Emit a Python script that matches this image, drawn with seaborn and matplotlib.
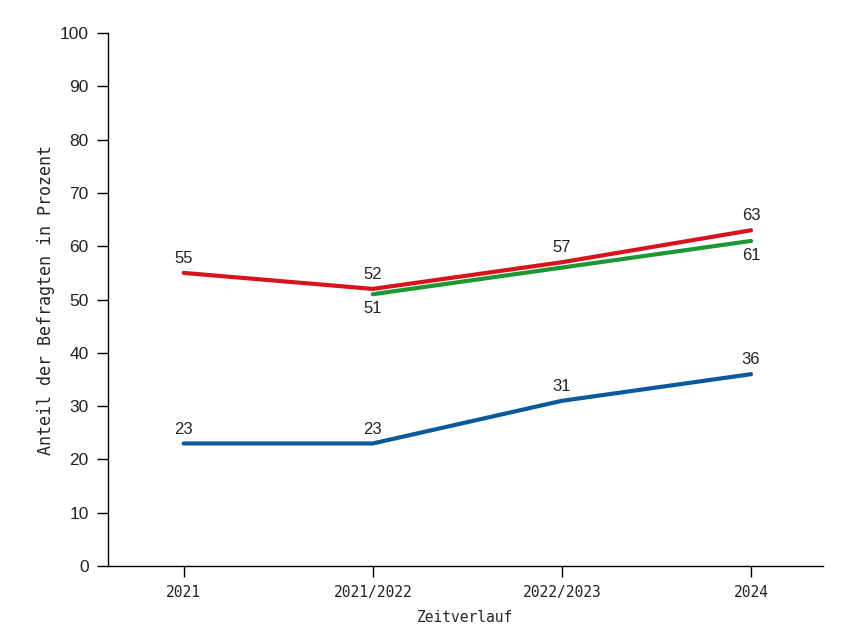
import numpy as np
import pandas as pd
import matplotlib.pyplot as plt
import seaborn as sns

sns.set_style('white')

zeit = ['2021', '2021/2022', '2022/2023', '2024']
rot = [55, 52, 57, 63]
gruen = [np.nan, 51, 56, 61]
blau = [23, 23, 31, 36]

farben = {'rot': '#d7141e', 'gruen': '#1e9632', 'blau': '#0a5a9b'}

df = pd.DataFrame({'zeit': zeit * 3,
                   'x': list(range(4)) * 3,
                   'wert': rot + gruen + blau,
                   'reihe': ['rot'] * 4 + ['gruen'] * 4 + ['blau'] * 4})

fig = plt.figure(figsize=(8.44, 6.36), dpi=100)
ax = fig.add_axes([0.128, 0.110, 0.847, 0.838])
sns.lineplot(data=df.dropna(), x='x', y='wert', hue='reihe', palette=farben,
             linewidth=3, legend=False, ax=ax)

num_font = dict(family='Liberation Sans', fontsize=12, color='#222222')
# labels: red and blue above, green below
for i, v in enumerate(rot):
    ax.annotate(str(v), (i, v), xytext=(0, 5), textcoords='offset points',
                ha='center', va='bottom', **num_font)
for i, v in enumerate(gruen):
    if i in (1, 3):
        ax.annotate(str(int(v)), (i, v), xytext=(0, -5), textcoords='offset points',
                    ha='center', va='top', **num_font)
for i, v in enumerate(blau):
    ax.annotate(str(v), (i, v), xytext=(0, 5), textcoords='offset points',
                ha='center', va='bottom', **num_font)

ax.set_xlim(-0.4, 3.38)
ax.set_ylim(0, 100)
ax.set_yticks(range(0, 101, 10))
ax.set_xticks(range(4))
ax.set_xticklabels(zeit, family='DejaVu Sans Mono', fontsize=10.5)
for t in ax.get_yticklabels():
    t.set_family('Liberation Sans')
    t.set_fontsize(12.5)
ax.set_xlabel('Zeitverlauf', family='DejaVu Sans Mono', fontsize=10.5, labelpad=7)
ax.set_ylabel('Anteil der Befragten in Prozent', family='DejaVu Sans Mono',
              fontsize=12, labelpad=3)
ax.tick_params(axis='both', direction='out', length=8, width=1, color='black',
               labelcolor='#222222', bottom=True, left=True, pad=6)
sns.despine(ax=ax)
for s in ['left', 'bottom']:
    ax.spines[s].set_color('black')
    ax.spines[s].set_linewidth(1)

fig.savefig('out.png', dpi=100)
